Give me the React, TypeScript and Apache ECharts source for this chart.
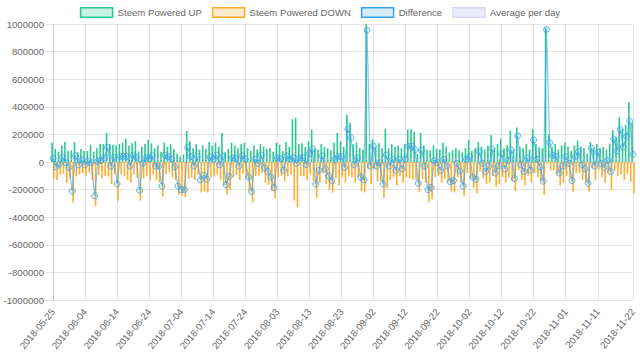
import React, { useEffect, useRef } from "react";
import * as echarts from "echarts";

const START_DATE = "2018-05-25";
const DAY_COUNT = 182;

const xTickLabels = [
  "2018-05-25", "2018-06-04", "2018-06-14", "2018-06-24", "2018-07-04", "2018-07-14",
  "2018-07-24", "2018-08-03", "2018-08-13", "2018-08-23", "2018-09-02", "2018-09-12",
  "2018-09-22", "2018-10-02", "2018-10-12", "2018-10-22", "2018-11-01", "2018-11-11",
  "2018-11-22",
];

const yTicks = { min: -1000000, max: 1000000, interval: 200000 };

const poweredUp = [
  140000, 95000, 75000, 120000, 145000, 80000, 85000, 145000, 70000, 95000,
  80000, 80000, 125000, 75000, 100000, 130000, 130000, 210000, 130000, 125000,
  120000, 130000, 140000, 170000, 120000, 135000, 150000, 75000, 110000, 130000,
  160000, 135000, 100000, 120000, 75000, 140000, 110000, 130000, 95000, 60000,
  40000, 55000, 225000, 150000, 100000, 130000, 90000, 120000, 95000, 145000,
  120000, 140000, 110000, 210000, 70000, 95000, 140000, 120000, 100000, 130000,
  140000, 100000, 80000, 120000, 90000, 130000, 110000, 95000, 100000, 75000,
  140000, 125000, 80000, 145000, 110000, 310000, 320000, 130000, 135000, 110000,
  150000, 235000, 100000, 90000, 130000, 110000, 100000, 85000, 140000, 210000,
  150000, 110000, 345000, 285000, 130000, 140000, 100000, 90000, 1000000, 130000,
  165000, 110000, 135000, 100000, 240000, 100000, 130000, 110000, 120000, 100000,
  130000, 235000, 240000, 220000, 60000, 210000, 120000, 90000, 85000, 120000,
  95000, 90000, 140000, 110000, 70000, 85000, 100000, 85000, 70000, 100000,
  160000, 80000, 100000, 145000, 110000, 90000, 120000, 195000, 100000, 130000,
  170000, 100000, 120000, 228000, 90000, 250000, 110000, 100000, 130000, 90000,
  240000, 130000, 105000, 100000, 975000, 200000, 110000, 130000, 90000, 120000,
  140000, 110000, 80000, 120000, 155000, 110000, 100000, 60000, 145000, 100000,
  130000, 100000, 110000, 90000, 130000, 230000, 180000, 325000, 240000, 270000, 435000, 280000,
];

const poweredDown = [
  -115000, -130000, -90000, -85000, -150000, -120000, -295000, -100000, -90000, -80000,
  -100000, -75000, -130000, -320000, -95000, -120000, -100000, -105000, -160000, -90000,
  -280000, -90000, -100000, -130000, -150000, -90000, -115000, -280000, -120000, -100000,
  -135000, -90000, -130000, -150000, -250000, -90000, -70000, -110000, -130000, -235000,
  -240000, -255000, -120000, -110000, -130000, -90000, -220000, -215000, -220000, -110000,
  -100000, -90000, -130000, -170000, -235000, -200000, -110000, -95000, -130000, -85000,
  -120000, -210000, -295000, -100000, -100000, -80000, -150000, -165000, -210000, -260000,
  -110000, -100000, -140000, -100000, -90000, -280000, -330000, -100000, -105000, -130000,
  -90000, -140000, -260000, -150000, -85000, -160000, -200000, -220000, -120000, -170000,
  -110000, -150000, -105000, -110000, -150000, -110000, -210000, -220000, -45000, -160000,
  -50000, -140000, -140000, -260000, -190000, -130000, -110000, -170000, -100000, -150000,
  -110000, -120000, -125000, -130000, -215000, -125000, -150000, -290000, -270000, -110000,
  -100000, -150000, -120000, -140000, -215000, -220000, -110000, -150000, -245000, -80000,
  -120000, -190000, -225000, -70000, -120000, -160000, -150000, -100000, -180000, -160000,
  -110000, -150000, -110000, -140000, -210000, -60000, -130000, -170000, -100000, -150000,
  -80000, -110000, -140000, -240000, -15000, -60000, -60000, -90000, -170000, -150000,
  -100000, -120000, -215000, -80000, -80000, -130000, -150000, -215000, -45000, -130000,
  -60000, -110000, -150000, -80000, -200000, -65000, -100000, -90000, -130000, -85000, -140000, -225000,
];

const AVERAGE_PER_DAY = 20000;

function buildDates(): string[] {
  const out: string[] = [];
  const d = new Date(START_DATE + "T00:00:00Z");
  for (let i = 0; i < DAY_COUNT; i++) {
    out.push(d.toISOString().slice(0, 10));
    d.setUTCDate(d.getUTCDate() + 1);
  }
  return out;
}

const FONT = "'Helvetica Neue', Helvetica, Arial, 'Liberation Sans', sans-serif";
const FS = 9.6;
const GREEN = "#28c98e";
const ORANGE = "#ffab2c";
const BLUE = "rgb(54,162,235)";

export default function App() {
  const ref = useRef<HTMLDivElement>(null);

  useEffect(() => {
    document.body.style.margin = "0";
    if (!ref.current) return;
    const chart = echarts.init(ref.current, undefined, { renderer: "svg" });
    const dates = buildDates();
    const difference = poweredUp.map((u, i) => u + poweredDown[i]);
    const average = dates.map(() => AVERAGE_PER_DAY);
    const showTick = (idx: number, val: string) => xTickLabels.includes(dates[idx] ?? val);

    chart.setOption({
      animation: false,
      textStyle: { fontFamily: FONT },
      legend: {
        top: 7,
        left: "center",
        padding: 0,
        itemWidth: 32,
        itemHeight: 9.6,
        itemGap: 10,
        textStyle: { color: "#666", fontSize: FS, fontFamily: FONT },
        data: [
          { name: "Steem Powered UP", icon: "rect", itemStyle: { color: "rgba(40,201,142,0.25)", borderColor: GREEN, borderWidth: 1.5 } },
          { name: "Steem Powered DOWN", icon: "rect", itemStyle: { color: "rgba(255,171,44,0.25)", borderColor: ORANGE, borderWidth: 1.5 } },
          { name: "Difference", icon: "rect", itemStyle: { color: "rgba(54,162,235,0.2)", borderColor: BLUE, borderWidth: 1.5 } },
          { name: "Average per day", icon: "rect", itemStyle: { color: "rgba(200,200,245,0.35)", borderColor: "#d8d8f5", borderWidth: 1.5 } },
        ],
      },
      grid: { left: 53, right: 7, top: 24, bottom: 61, containLabel: false },
      xAxis: {
        type: "category",
        data: dates,
        boundaryGap: false,
        axisLine: { show: true, lineStyle: { color: "rgba(0,0,0,0.1)" } },
        axisTick: { show: true, length: 8, interval: showTick, lineStyle: { color: "rgba(0,0,0,0.1)" } },
        splitLine: { show: true, interval: showTick, lineStyle: { color: "rgba(0,0,0,0.1)" } },
        axisLabel: {
          interval: showTick,
          rotate: 50,
          color: "#666",
          fontSize: FS,
          fontFamily: FONT,
          margin: 10,
        },
      },
      yAxis: {
        type: "value",
        min: yTicks.min,
        max: yTicks.max,
        interval: yTicks.interval,
        axisLine: { show: true, lineStyle: { color: "rgba(0,0,0,0.1)" } },
        axisTick: { show: true, length: 8, lineStyle: { color: "rgba(0,0,0,0.1)" } },
        splitLine: { show: true, lineStyle: { color: "rgba(0,0,0,0.1)" } },
        axisLabel: {
          color: "#666",
          fontSize: FS,
          fontFamily: FONT,
          margin: 9,
          formatter: (v: number) => String(v),
        },
      },
      series: [
        {
          name: "Steem Powered UP",
          type: "bar",
          data: poweredUp,
          barWidth: 1.6,
          barGap: "15%",
          itemStyle: { color: GREEN },
          z: 2,
        },
        {
          name: "Steem Powered DOWN",
          type: "bar",
          data: poweredDown,
          barWidth: 1.6,
          barGap: "15%",
          itemStyle: { color: ORANGE },
          z: 2,
        },
        {
          name: "Difference",
          type: "line",
          data: difference,
          symbol: "circle",
          symbolSize: 6,
          showSymbol: true,
          showAllSymbol: true,
          lineStyle: { color: "rgba(54,162,235,0.6)", width: 1.2 },
          itemStyle: { color: "rgba(54,162,235,0.15)", borderColor: "rgba(54,162,235,0.75)", borderWidth: 1 },
          z: 4,
        },
        {
          name: "Average per day",
          type: "line",
          data: average,
          symbol: "none",
          lineStyle: { color: "rgba(200,200,245,0.5)", width: 1 },
          itemStyle: { color: "#d8d8f5" },
          z: 3,
        },
      ],
    });
    return () => chart.dispose();
  }, []);

  return <div ref={ref} style={{ width: 640, height: 361 }} />;
}
